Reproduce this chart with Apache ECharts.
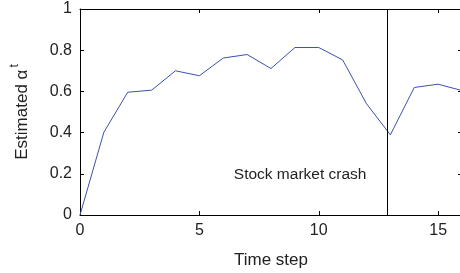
<!DOCTYPE html>
<html>
<head>
<meta charset="utf-8">
<script src="https://cdn.jsdelivr.net/npm/echarts@6/dist/echarts.min.js"></script>
<style>
  html, body { margin: 0; padding: 0; background: #fff; overflow: hidden; }
  #chart { width: 460px; height: 273px; }
</style>
</head>
<body>
<div id="chart"></div>
<script>
// ===== Data =====
const timeSteps = [0, 1, 2, 3, 4, 5, 6, 7, 8, 9, 10, 11, 12, 13, 14, 15, 16];
const alphaValues = [0, 0.402, 0.596, 0.606, 0.700, 0.676, 0.762, 0.779, 0.711, 0.813, 0.813, 0.753, 0.540, 0.389, 0.619, 0.635, 0.604];
const crashStep = 12.87;
const crashLabel = 'Stock market crash';
const crashLabelAt = [9.22, 0.195];
const xTicks = [0, 5, 10, 15];
const yTicks = [0, 0.2, 0.4, 0.6, 0.8, 1];

const FONT = '"Liberation Sans", Arial, sans-serif';
const TXT = '#222';

// ===== Chart =====
const chart = echarts.init(document.getElementById('chart'), null, { renderer: 'canvas' });

// frame lines: the right spine sits just past the visible edge, as in the original crop
const frameLine = { show: true, onZero: false, lineStyle: { color: '#000', width: 1 } };
const frameTick = { show: true, inside: true, length: 4, lineStyle: { color: '#000' } };

chart.setOption({
  animation: false,
  backgroundColor: '#fff',
  grid: { left: 80, right: -2, top: 9, bottom: 58, containLabel: false, outerBoundsMode: 'none' },
  xAxis: [
    {
      type: 'value', min: 0, max: 16, interval: 5, position: 'bottom',
      name: 'Time step', nameLocation: 'middle', nameGap: 37,
      nameTextStyle: { fontFamily: FONT, fontSize: 17, color: TXT },
      axisLine: frameLine, axisTick: frameTick,
      axisLabel: {
        fontFamily: FONT, fontSize: 16, color: TXT, margin: 8,
        formatter: v => xTicks.includes(v) ? String(v) : ''
      },
      splitLine: { show: false }
    },
    {
      type: 'value', min: 0, max: 16, interval: 5, position: 'top',
      axisLine: frameLine, axisTick: frameTick,
      axisLabel: { show: false }, splitLine: { show: false }
    }
  ],
  yAxis: [
    {
      type: 'value', min: 0, max: 1, interval: 0.2, position: 'left',
      name: '{n|Estimated α}{s|t}', nameLocation: 'middle', nameGap: 45,
      nameTextStyle: {
        rich: {
          n: { fontFamily: FONT, fontSize: 17, color: TXT },
          s: { fontFamily: FONT, fontSize: 12, color: TXT, padding: [0, 0, 14, 2] }
        }
      },
      axisLine: frameLine, axisTick: frameTick,
      axisLabel: {
        fontFamily: FONT, fontSize: 16, color: TXT, margin: 8,
        formatter: v => yTicks.some(t => Math.abs(t - v) < 1e-9) ? String(+v.toFixed(1)) : ''
      },
      splitLine: { show: false }
    },
    {
      type: 'value', min: 0, max: 1, interval: 0.2, position: 'right',
      axisLine: frameLine, axisTick: frameTick,
      axisLabel: { show: false }, splitLine: { show: false }
    }
  ],
  series: [
    {
      type: 'line',
      data: timeSteps.map((t, i) => [t, alphaValues[i]]),
      symbol: 'none',
      lineStyle: { color: '#3a50b4', width: 1 },
      markLine: {
        silent: true, symbol: 'none', label: { show: false },
        lineStyle: { color: '#000', width: 1, type: 'solid' },
        data: [{ xAxis: crashStep }]
      },
      markPoint: {
        silent: true, symbol: 'circle', symbolSize: 0,
        label: {
          show: true, position: 'inside', formatter: crashLabel,
          fontFamily: FONT, fontSize: 15.5, color: TXT
        },
        data: [{ coord: crashLabelAt }]
      }
    }
  ]
});
</script>
</body>
</html>
